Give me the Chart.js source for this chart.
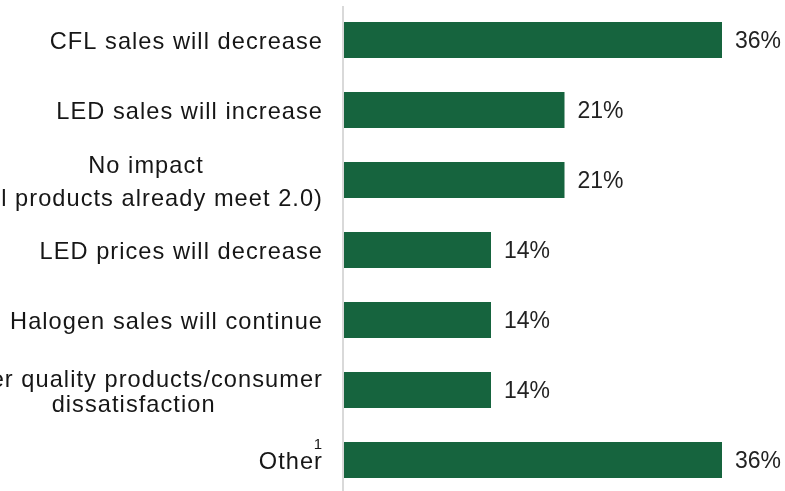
<!DOCTYPE html>
<html>
<head>
<meta charset="utf-8">
<script src="https://cdn.jsdelivr.net/npm/chart.js@4/dist/chart.umd.min.js"></script>
<style>
  html, body { margin: 0; padding: 0; background: #fff; overflow: hidden; }
  #wrap { width: 785px; height: 500px; position: relative; }
</style>
</head>
<body>
<div id="wrap"><canvas id="c" width="785" height="500"></canvas></div>
<script>
// Expected impacts, one entry per bar (multi-line labels as arrays of lines)
const categories = [
  ['CFL sales will decrease'],
  ['LED sales will increase'],
  ['No impact', '(All products already meet 2.0)'],
  ['LED prices will decrease'],
  ['Halogen sales will continue'],
  ['Lower quality products/consumer', 'dissatisfaction'],
  ['Other']
];
const footnotes = ['', '', '', '', '', '', '1'];
const shares = [36, 21, 21, 14, 14, 14, 36];   // percent of respondents
const axisMax = 36;

const BAR_GREEN = '#16643e';
const TEXT = '#161616';
const FONT = '"Liberation Sans", Arial, sans-serif';

// Category labels, value labels and the category axis line
const labelPlugin = {
  id: 'barLabels',
  afterDraw(chart, args, opts) {
    const ctx = chart.ctx;
    const xs = chart.scales.x, ys = chart.scales.y;
    const x0 = xs.getPixelForValue(0);
    ctx.save();

    // category axis line
    ctx.fillStyle = '#d9d9d9';
    ctx.fillRect(x0 - 2, chart.chartArea.top + 1, 2, chart.height);

    const capHalf = 8.4;
    const right = x0 - 21;

    categories.forEach((lines, i) => {
      const yc = ys.getPixelForValue(i);
      ctx.font = '23.6px ' + FONT;
      ctx.letterSpacing = '1.05px';
      ctx.fillStyle = TEXT;
      ctx.textAlign = 'center';
      ctx.textBaseline = 'alphabetic';
      const widths = lines.map(l => ctx.measureText(l).width);
      const maxW = Math.max(...widths);
      const gap = (opts.lineGaps && opts.lineGaps[i]) || 26;
      const cx = right - maxW / 2;
      lines.forEach((l, k) => {
        const mid = yc + 1 - (lines.length - 1) * gap / 2 + k * gap;
        ctx.fillText(l, cx, mid + capHalf);
      });
      if (footnotes[i]) {
        ctx.font = '15px ' + FONT;
        ctx.letterSpacing = '0px';
        ctx.textAlign = 'right';
        ctx.fillText(footnotes[i], right - 1, yc - 11);
      }

      // value label beside the bar end
      const xe = xs.getPixelForValue(shares[i]);
      ctx.font = '23px ' + FONT;
      ctx.letterSpacing = '0px';
      ctx.textAlign = 'left';
      ctx.fillStyle = '#222222';
      ctx.fillText(shares[i] + '%', xe + 13, yc + capHalf);
    });
    ctx.restore();
  }
};

new Chart(document.getElementById('c'), {
  type: 'bar',
  data: {
    labels: categories.map(c => c.join(' ')),
    datasets: [{
      data: shares,
      backgroundColor: BAR_GREEN,
      borderWidth: 0,
      barPercentage: 0.514,
      categoryPercentage: 1
    }]
  },
  options: {
    indexAxis: 'y',
    responsive: false,
    animation: false,
    devicePixelRatio: 1,
    layout: { padding: { left: 344, right: 63, top: 5, bottom: 5 } },
    scales: {
      x: { display: false, min: 0, max: axisMax },
      y: { display: false }
    },
    plugins: {
      legend: { display: false },
      tooltip: { enabled: false },
      barLabels: { lineGaps: [26, 26, 32.5, 26, 26, 25.7, 26] }
    }
  },
  plugins: [labelPlugin]
});
</script>
</body>
</html>
